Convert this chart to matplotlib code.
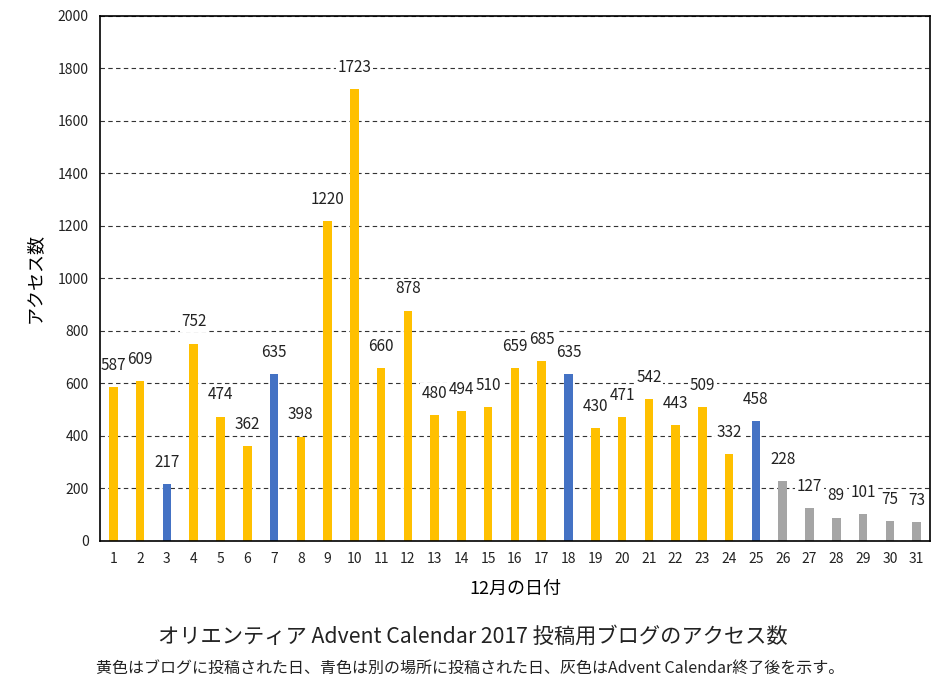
import matplotlib
matplotlib.use("Agg")
import matplotlib.pyplot as plt

plt.rcParams['font.family'] = ['Noto Sans CJK JP', 'DejaVu Sans']

days = list(range(1, 32))
access = [587, 609, 217, 752, 474, 362, 635, 398, 1220, 1723,
          660, 878, 480, 494, 510, 659, 685, 635, 430, 471,
          542, 443, 509, 332, 458, 228, 127, 89, 101, 75, 73]
# y: 自ブログ投稿日, b: 別の場所に投稿, g: 終了後
kinds = ['y', 'y', 'b', 'y', 'y', 'y', 'b', 'y', 'y', 'y',
         'y', 'y', 'y', 'y', 'y', 'y', 'y', 'b', 'y', 'y',
         'y', 'y', 'y', 'y', 'b', 'g', 'g', 'g', 'g', 'g', 'g']
palette = {'y': '#FFC000', 'b': '#4472C4', 'g': '#A5A5A5'}

fig = plt.figure(figsize=(9.45, 6.86), dpi=100)
ax = fig.add_axes([0.1058, 0.2114, 0.8783, 0.7653])

ax.bar(days, access, width=0.32, color=[palette[k] for k in kinds], zorder=2)
for d, v in zip(days, access):
    ax.text(d, v + 50, str(v), ha='center', va='bottom', fontsize=11,
            color='#222222', zorder=2.4,
            bbox=dict(facecolor='white', edgecolor='none', pad=1))

ax.set_xlim(0.5, 31.5)
ax.set_ylim(0, 2000)
ax.set_yticks(range(0, 2001, 200))
ax.set_xticks(days)
ax.tick_params(length=0, labelsize=10, colors='#222222', pad=8)
ax.yaxis.grid(True, linestyle=(0, (4, 3)), color='#333333', linewidth=0.8, zorder=0)
for s in ax.spines.values():
    s.set_linewidth(1.2)

ax.set_xlabel('12月の日付', fontsize=13, labelpad=10)
ax.set_ylabel('アクセス数', fontsize=13, labelpad=10)

fig.text(0.5, 0.072, 'オリエンティア Advent Calendar 2017 投稿用ブログのアクセス数',
         ha='center', va='center', fontsize=15.3, color='#222222')
fig.text(0.497, 0.026, '黄色はブログに投稿された日、青色は別の場所に投稿された日、灰色はAdvent Calendar終了後を示す。',
         ha='center', va='center', fontsize=11.5, color='#222222')

fig.savefig('out.png', dpi=100)
